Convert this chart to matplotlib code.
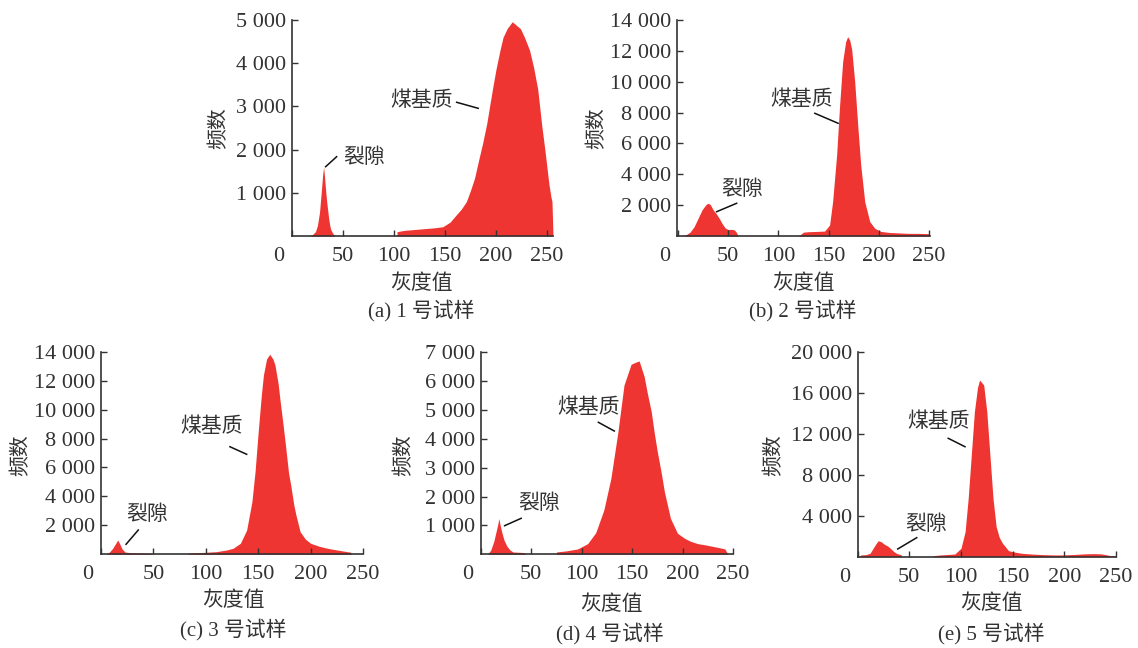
import matplotlib.pyplot as plt

plt.rcParams['font.family'] = ['Liberation Serif', 'Noto Sans CJK SC']

W, H = 1138, 648
RED = '#EE3531'
INK = '#333333'

# grey value / frequency
a_crack_x = [17, 20, 23, 25, 27, 29, 30, 31, 32, 33, 34, 35, 36, 37, 38, 40, 42]
a_crack_y = [0, 30, 100, 250, 550, 1100, 1400, 1600, 1350, 1050, 800, 600, 400, 250, 150, 60, 0]
a_matrix_x = [103, 110, 120, 130, 140, 148, 155, 161, 166, 171, 175, 179, 183, 187, 191, 194,
              197, 200, 204, 207, 211, 216, 220, 224, 228, 233, 237, 241, 245, 248, 250, 252,
              254, 255, 256]
a_matrix_y = [100, 130, 150, 170, 190, 215, 320, 486, 620, 795, 1050, 1335, 1750, 2150, 2600,
              3030, 3450, 3850, 4300, 4600, 4800, 4960, 4880, 4800, 4600, 4300, 3900, 3400,
              2550, 2000, 1600, 1200, 900, 800, 0]

b_crack_x = [4, 8, 12, 16, 20, 24, 28, 30, 32, 35, 38, 41, 44, 47, 50, 53, 56, 58, 60]
b_crack_y = [0, 80, 250, 600, 1150, 1700, 2050, 2120, 2050, 1700, 1450, 1150, 800, 520, 420,
             430, 400, 250, 0]
b_matrix_x = [120, 125, 130, 135, 140, 146, 151, 154, 158, 161, 164, 167, 169, 171, 173, 176,
              179, 182, 186, 191, 196, 202, 210, 220, 229, 240, 250]
b_matrix_y = [0, 250, 280, 290, 300, 320, 713, 2225, 5250, 8490, 11300, 12600, 12920, 12700,
              12100, 10000, 7194, 4600, 2225, 930, 500, 300, 230, 200, 173, 170, 150]

c_crack_x = [5, 8, 11, 14, 16, 18, 20, 23, 30, 40, 48, 49]
c_crack_y = [0, 150, 400, 750, 990, 700, 380, 150, 100, 80, 60, 0]
c_matrix_x = [83, 90, 100, 110, 120, 126, 133, 139, 144, 147, 150, 153, 155, 158, 161, 164,
              166, 169, 171, 174, 176, 179, 181, 184, 186, 190, 195, 200, 208, 216, 225, 235,
              238, 239]
c_matrix_y = [70, 100, 140, 180, 300, 415, 760, 1680, 3635, 5710, 8470, 11000, 12390, 13500,
              13820, 13500, 13080, 11800, 10545, 8800, 7550, 5600, 4790, 3400, 2716, 1560,
              1050, 760, 560, 415, 300, 180, 150, 0]

d_crack_x = [7, 10, 13, 15, 17, 18, 19, 21, 23, 26, 29, 32, 38, 43, 44]
d_crack_y = [0, 150, 450, 750, 1050, 1240, 1050, 750, 500, 280, 150, 80, 70, 60, 0]
d_matrix_x = [75, 85, 96, 106, 114, 122, 129, 136, 142, 149, 153, 157, 162, 165, 169, 172,
              175, 179, 182, 188, 195, 202, 208, 215, 222, 228, 235, 242, 245]
d_matrix_y = [80, 120, 185, 370, 750, 1535, 2633, 4250, 5867, 6584, 6650, 6700, 6155, 5600,
              4942, 4200, 3556, 2800, 2169, 1247, 728, 554, 450, 370, 330, 288, 240, 185, 0]

e_crack_x = [2, 3, 8, 12, 15, 18, 20, 23, 26, 29, 32, 35, 38, 42, 43]
e_crack_y = [0, 170, 200, 330, 820, 1300, 1560, 1450, 1200, 1050, 800, 500, 300, 200, 0]
e_matrix_x = [73, 80, 94, 100, 104, 107, 110, 113, 116, 118, 120, 122, 125, 128, 131, 134,
              137, 140, 146, 152, 159, 170, 180, 191, 200, 210, 220, 228, 235, 240, 245, 250]
e_matrix_y = [100, 170, 260, 820, 2440, 5700, 9920, 14150, 16500, 17240, 17000, 16750, 14150,
              9920, 5700, 2960, 1900, 1340, 590, 450, 330, 250, 200, 170, 180, 220, 280, 300,
              280, 200, 100, 100]

x_ticks = [0, 50, 100, 150, 200, 250]
a_yticks = [1000, 2000, 3000, 4000, 5000]
b_yticks = [2000, 4000, 6000, 8000, 10000, 12000, 14000]
c_yticks = [2000, 4000, 6000, 8000, 10000, 12000, 14000]
d_yticks = [1000, 2000, 3000, 4000, 5000, 6000, 7000]
e_yticks = [4000, 8000, 12000, 16000, 20000]

captions = ['(a) 1 号试样', '(b) 2 号试样', '(c) 3 号试样', '(d) 4 号试样', '(e) 5 号试样']

# box = axes edges in pixels (left, right, top, bottom); ct/mt = label spots, cl/ml = leader lines
panels = [
    dict(box=(292, 553, 20, 236), xlim=(0, 256), ylim=5000, yt=a_yticks,
         crack=(a_crack_x, a_crack_y), matrix=(a_matrix_x, a_matrix_y),
         ct=(50, 1800), cl=((33, 43.8), (1604, 1836)),
         mt=(127, 3125), ml=((161.5, 182.6), (3095, 2956)),
         ylab=(220, 128), xlab=(421, 284), cap=(421, 311)),
    dict(box=(677, 930, 20, 236), xlim=(-1, 251), ylim=14000, yt=b_yticks,
         crack=(b_crack_x, b_crack_y), matrix=(b_matrix_x, b_matrix_y),
         ct=(43.5, 2981), cl=((38.5, 58.4), (1575, 2120)),
         mt=(123, 8815), ml=((136.3, 159.5), (7953, 7305)),
         ylab=(598, 128), xlab=(803, 284), cap=(803, 311)),
    dict(box=(101, 363, 351.7, 554.3), xlim=(0, 250), ylim=14000, yt=c_yticks,
         crack=(c_crack_x, c_crack_y), matrix=(c_matrix_x, c_matrix_y),
         ct=(24.5, 2716), cl=((23.9, 35.6), (691, 1679)),
         mt=(105.5, 8817), ml=((123, 139), (7435, 6910)),
         ylab=(22, 455), xlab=(233, 601), cap=(233, 630)),
    dict(box=(480.7, 733, 352.3, 554.3), xlim=(0, 250), ylim=7000, yt=d_yticks,
         crack=(d_crack_x, d_crack_y), matrix=(d_matrix_x, d_matrix_y),
         ct=(36.9, 1733), cl=((23.7, 40.1), (991, 1247)),
         mt=(106.8, 5059), ml=((116.6, 132.4), (4574, 4272)),
         ylab=(405, 455), xlab=(611, 605), cap=(610, 634)),
    dict(box=(857.6, 1116, 351.7, 556.7), xlim=(0, 250), ylim=20000, yt=e_yticks,
         crack=(e_crack_x, e_crack_y), matrix=(e_matrix_x, e_matrix_y),
         ct=(45.8, 3093), cl=((38.8, 57.2), (751, 1854)),
         mt=(78, 13170), ml=((87.7, 103.9), (11550, 10730)),
         ylab=(775, 455), xlab=(991, 604), cap=(991, 634)),
]

fig = plt.figure(figsize=(W / 100, H / 100), dpi=100)

for p, cap in zip(panels, captions):
    l, r, t, b = p['box']
    ax = fig.add_axes([l / W, 1 - b / H, (r - l) / W, (b - t) / H])

    for xs, ys in (p['crack'], p['matrix']):
        ax.fill_between(xs, ys, 0, color=RED, lw=0)

    ax.set_xlim(*p['xlim'])
    ax.set_ylim(0, p['ylim'])
    ax.set_xticks(x_ticks)
    ax.set_xticklabels([''] + [str(v) for v in x_ticks[1:]])
    ax.set_yticks(p['yt'])
    ax.set_yticklabels([f'{v:,}'.replace(',', ' ') for v in p['yt']])
    ax.tick_params(direction='in', length=4, width=1, color=INK, labelcolor=INK,
                   labelsize=16)
    ax.tick_params(axis='x', pad=8)
    ax.tick_params(axis='y', pad=4)
    ax.spines[['top', 'right']].set_visible(False)
    for s in ('left', 'bottom'):
        ax.spines[s].set_color(INK)
        ax.spines[s].set_linewidth(1.2)
    # the "0" label sits left of the origin
    ax.annotate('0', xy=(0, 0), xycoords=('data', 'axes fraction'), xytext=(-13, -8 * 100 / 72),
                textcoords='offset pixels', ha='center', va='top', fontsize=16, color=INK)

    ax.text(p['ct'][0], p['ct'][1], '裂隙', fontsize=15, color=INK, ha='left', va='center')
    ax.plot(p['cl'][0], p['cl'][1], color='#111111', lw=1.1, clip_on=False)
    ax.text(p['mt'][0], p['mt'][1], '煤基质', fontsize=15, color=INK, ha='center', va='center')
    ax.plot(p['ml'][0], p['ml'][1], color='#111111', lw=1.1, clip_on=False)

    fig.text(p['ylab'][0] / W, 1 - p['ylab'][1] / H, '频数', rotation=90, fontsize=15,
             color=INK, ha='center', va='center')
    fig.text(p['xlab'][0] / W, 1 - p['xlab'][1] / H, '灰度值', fontsize=15,
             color=INK, ha='center', va='center')
    fig.text(p['cap'][0] / W, 1 - p['cap'][1] / H, cap, fontsize=15,
             color=INK, ha='center', va='center')

fig.savefig('out.png', dpi=100)
